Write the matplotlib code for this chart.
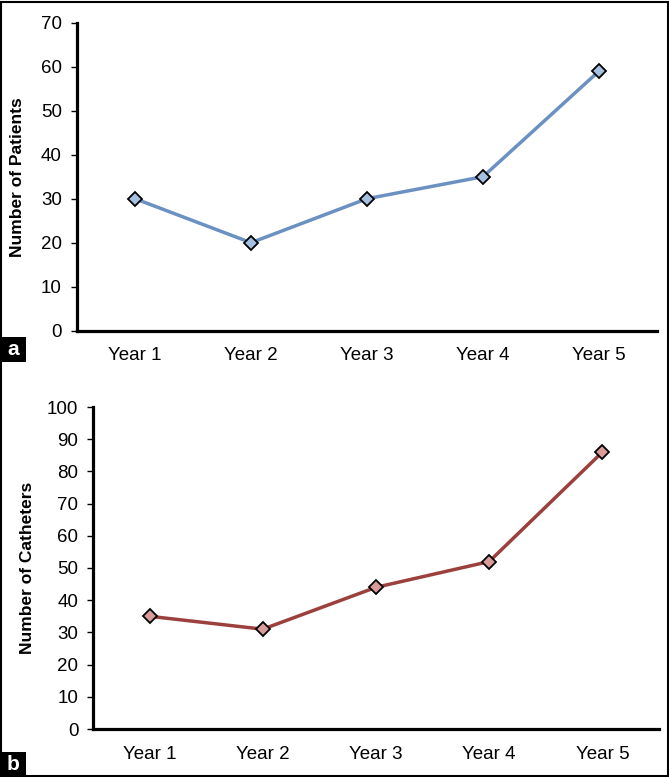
import matplotlib
matplotlib.use('Agg')
from matplotlib import pyplot as plt
from matplotlib.patches import Rectangle

# data
years = ['Year 1', 'Year 2', 'Year 3', 'Year 4', 'Year 5']
patients = [30, 20, 30, 35, 59]
catheters = [35, 31, 44, 52, 86]

plt.rcParams['font.family'] = ['Liberation Sans', 'DejaVu Sans']

W, H = 669, 777
fig = plt.figure(figsize=(W / 100, H / 100), dpi=100)


def px_axes(left, top, right, bottom):
    # pixel box -> figure fraction
    return [left / W, 1 - bottom / H, (right - left) / W, (bottom - top) / H]


def style_axis(ax, ymax, ystep, ylabel, pad_y):
    ax.set_xlim(-0.5, len(years) - 0.5)
    ax.set_ylim(0, ymax)
    ax.set_yticks(range(0, ymax + 1, ystep))
    ax.set_xticks(range(len(years)))
    ax.set_xticklabels(years)
    ax.spines['right'].set_visible(False)
    ax.spines['top'].set_visible(False)
    ax.spines['left'].set_linewidth(2.3)
    ax.spines['bottom'].set_linewidth(2.3)
    ax.tick_params(axis='y', direction='out', length=4, width=1, pad=pad_y, labelsize=13.5)
    ax.tick_params(axis='x', length=0, pad=12, labelsize=13.5)
    ax.set_ylabel(ylabel, fontsize=12.5, fontweight='bold', va='center')


# panel a
ax1 = fig.add_axes(px_axes(77, 22.7, 657, 330.7))
ax1.plot(range(len(years)), patients, color='#6b90c2', lw=2.5, marker='D', ms=7.5,
         mfc='#a6c0e2', mec='black', mew=1.3, clip_on=False, zorder=3)
style_axis(ax1, 70, 10, 'Number of Patients', 7)
ax1.yaxis.set_label_coords(-0.102, 0.5)

# panel b
ax2 = fig.add_axes(px_axes(93, 407, 659, 729))
ax2.plot(range(len(years)), catheters, color='#9c403d', lw=2.5, marker='D', ms=7.5,
         mfc='#da9c9a', mec='black', mew=1.3, clip_on=False, zorder=3)
style_axis(ax2, 100, 10, 'Number of Catheters', 6.5)
ax2.yaxis.set_label_coords(-0.115, 0.5)

# panel letters
for letter, top in [('a', 337), ('b', 752)]:
    fig.patches.append(Rectangle((0, 1 - (top + 25) / H), 26 / W, 25 / H,
                                 transform=fig.transFigure, facecolor='black',
                                 edgecolor='none', zorder=5))
    fig.text(13 / W, 1 - (top + 12.5) / H, letter, color='white', fontsize=15,
             fontweight='bold', ha='center', va='center', zorder=6)

# outer frame
fig.patches.append(Rectangle((0.001, 0.001), 0.997, 0.997, transform=fig.transFigure,
                             facecolor='none', edgecolor='black', lw=1.5, zorder=4))

fig.savefig('out.png', dpi=100)
